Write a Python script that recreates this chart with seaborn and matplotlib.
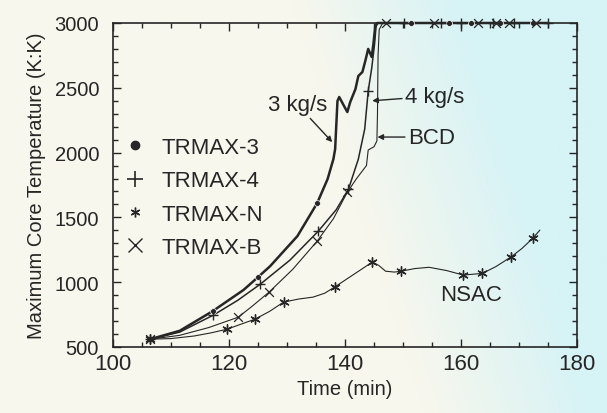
import numpy as np
import pandas as pd
import matplotlib
matplotlib.use("Agg")
import matplotlib.pyplot as plt
import seaborn as sns
from matplotlib.lines import Line2D
from matplotlib.ticker import MultipleLocator

# curve traces (time in min, max core temperature in K)
t3_time = [106.4, 111.5, 117.2, 122.5, 125.0, 127.1, 131.8, 135.2, 137.0, 138.0, 138.3,
           138.7, 139.0, 140.4, 140.9, 141.8, 142.3, 143.0, 143.5, 144.0, 144.6, 144.9,
           145.2, 145.6, 175.0]
t3_temp = [560, 625, 777, 940, 1039, 1124, 1356, 1610, 1796, 1950, 2027,
           2398, 2429, 2313, 2390, 2490, 2591, 2622, 2707, 2800, 2738, 2838,
           2969, 3000, 3000]

t4_time = [106.4, 111.5, 117.3, 121.5, 125.4, 130.5, 135.4, 138.5, 140.6, 142.3, 143.4,
           144.0, 144.6, 145.1, 145.4, 175.0]
t4_temp = [560, 615, 746, 860, 985, 1170, 1394, 1560, 1718, 1950, 2182,
           2475, 2650, 2838, 3000, 3000]

tb_time = [106.4, 111.5, 116.5, 121.6, 124.0, 126.9, 131.0, 135.2, 138.0, 140.4, 142.0,
           143.7, 144.0, 145.0, 145.5, 145.6, 145.7, 145.9, 146.5, 175.0]
tb_temp = [560, 590, 650, 730, 815, 923, 1100, 1317, 1490, 1695, 1800,
           1900, 2020, 2045, 2090, 2300, 2750, 2950, 3000, 3000]

tn_time = [106.4, 110.0, 114.0, 117.0, 119.7, 122.0, 124.5, 127.0, 129.4, 132.0, 134.5,
           136.5, 138.3, 141.5, 144.7, 145.8, 147.0, 148.5, 149.7, 152.0, 154.5, 157.5,
           160.4, 163.7, 166.0, 168.6, 170.5, 172.4, 173.6]
tn_temp = [560, 565, 585, 610, 638, 675, 715, 775, 846, 870, 885,
           915, 965, 1060, 1155, 1130, 1085, 1078, 1085, 1105, 1115, 1090,
           1055, 1068, 1120, 1194, 1260, 1340, 1402]

# marker positions
m3_time = [106.4, 117.2, 125.0, 135.2, 151.3, 157.9, 161.7, 166.8, 172.4]
m3_temp = [560, 777, 1039, 1610, 3000, 3000, 3000, 3000, 3000]
m4_time = [106.4, 117.3, 125.4, 135.4, 140.6, 144.0, 150.1, 156.5, 160.0, 165.5, 169.1, 175.0]
m4_temp = [560, 746, 985, 1394, 1718, 2475, 3000, 3000, 3000, 3000, 3000, 3000]
mb_time = [106.4, 121.6, 126.9, 135.2, 140.4, 147.0, 155.3, 162.9, 166.0, 168.2, 172.9]
mb_temp = [560, 730, 923, 1317, 1695, 3000, 3000, 3000, 3000, 3000, 3000]
mn_time = [106.4, 119.7, 124.5, 129.4, 138.3, 144.7, 149.7, 160.4, 163.7, 168.6, 172.4]
mn_temp = [560, 638, 715, 846, 965, 1155, 1085, 1055, 1068, 1194, 1340]

legend_labels = ["TRMAX-3", "TRMAX-4", "TRMAX-N", "TRMAX-B"]

ink = "#262626"
sns.set_theme(style="ticks")
plt.rcParams["font.family"] = ["Liberation Sans", "DejaVu Sans"]

fig = plt.figure(figsize=(6.07, 4.14), dpi=100)

# scanned paper tint: cream on the left, pale cyan toward the right
bg = fig.add_axes([0, 0, 1, 1], zorder=-10)
u, v = np.meshgrid(np.linspace(0, 1, 300), np.linspace(0, 1, 200))
t = np.clip((u - 0.62 + 0.22 * (1 - v) - 0.22) / 0.28 + 0.5, 0, 1)[..., None]
cream = np.array([248, 247, 237]) / 255
cyan = np.array([214, 243, 246]) / 255
bg.imshow(cream * (1 - t) + cyan * t, aspect="auto", extent=[0, 1, 0, 1], origin="upper")
bg.axis("off")

ax = fig.add_axes([113 / 607, 1 - 348 / 414, 464 / 607, 324 / 414])
ax.set_facecolor("none")

series = [
    (t3_time, t3_temp, 1.8),
    (t4_time, t4_temp, 1.1),
    (tb_time, tb_temp, 0.8),
    (tn_time, tn_temp, 0.8),
]
for tt, yy, lw in series:
    df = pd.DataFrame({"time": tt, "temp": yy})
    sns.lineplot(data=df, x="time", y="temp", sort=False, estimator=None,
                 color=ink, linewidth=lw, ax=ax, clip_on=False)

marks = [
    (m3_time, m3_temp, "o", 18, 0.5),
    (m4_time, m4_temp, "+", 55, 1.0),
    (mn_time, mn_temp, (6, 2, 0), 45, 1.0),
    (mb_time, mb_temp, "x", 40, 0.9),
]
for tt, yy, mk, s, lw in marks:
    sns.scatterplot(x=tt, y=yy, marker=mk, s=s, color=ink, linewidth=lw,
                    ax=ax, clip_on=False, zorder=5)

ax.set_xlim(100, 180)
ax.set_ylim(500, 3000)
ax.xaxis.set_major_locator(MultipleLocator(20))
ax.xaxis.set_minor_locator(MultipleLocator(5))
ax.yaxis.set_major_locator(MultipleLocator(500))
ax.yaxis.set_minor_locator(MultipleLocator(100))
ax.tick_params(which="both", direction="in", top=True, right=True, colors=ink, width=1.0)
ax.tick_params(which="major", length=6)
ax.tick_params(which="minor", length=3.5)
ax.tick_params(axis="x", labelsize=16, pad=4)
ax.tick_params(axis="y", labelsize=14.5, pad=10)
for sp in ax.spines.values():
    sp.set_color(ink)
    sp.set_linewidth(1.2)

ax.set_xlabel("Time (min)", fontsize=14.5, color=ink, labelpad=4)
ax.set_ylabel("Maximum Core Temperature (K:K)", fontsize=14.5, color=ink, labelpad=6)

arrow = dict(arrowstyle="-|>", color=ink, lw=1.0, mutation_scale=8, shrinkA=0, shrinkB=0)
ax.annotate("3 kg/s", xy=(137.8, 2081), xytext=(131.8, 2370), fontsize=16, color=ink,
            ha="center", va="center", arrowprops=arrow)
ax.annotate("4 kg/s", xy=(144.7, 2400), xytext=(150.4, 2436), fontsize=16, color=ink,
            ha="left", va="center", arrowprops=arrow)
ax.annotate("BCD", xy=(145.6, 2120), xytext=(150.9, 2120), fontsize=16, color=ink,
            ha="left", va="center", arrowprops=arrow)
ax.text(161.7, 908, "NSAC", fontsize=16, color=ink, ha="center", va="center")

handles = [
    Line2D([], [], linestyle="none", marker="o", markersize=6, color=ink),
    Line2D([], [], linestyle="none", marker="+", markersize=12, markeredgewidth=1.2, color=ink),
    Line2D([], [], linestyle="none", marker=(6, 2, 0), markersize=7, markeredgewidth=1.0, color=ink),
    Line2D([], [], linestyle="none", marker="x", markersize=10, markeredgewidth=1.0, color=ink),
]
leg = ax.legend(handles, legend_labels, loc="upper left", bbox_to_anchor=(0.0, 0.675),
                frameon=False, fontsize=16, handlelength=1.2, handletextpad=0.6,
                labelspacing=0.55, borderaxespad=0)
for txt in leg.get_texts():
    txt.set_color(ink)

fig.savefig("out.png", dpi=100)
